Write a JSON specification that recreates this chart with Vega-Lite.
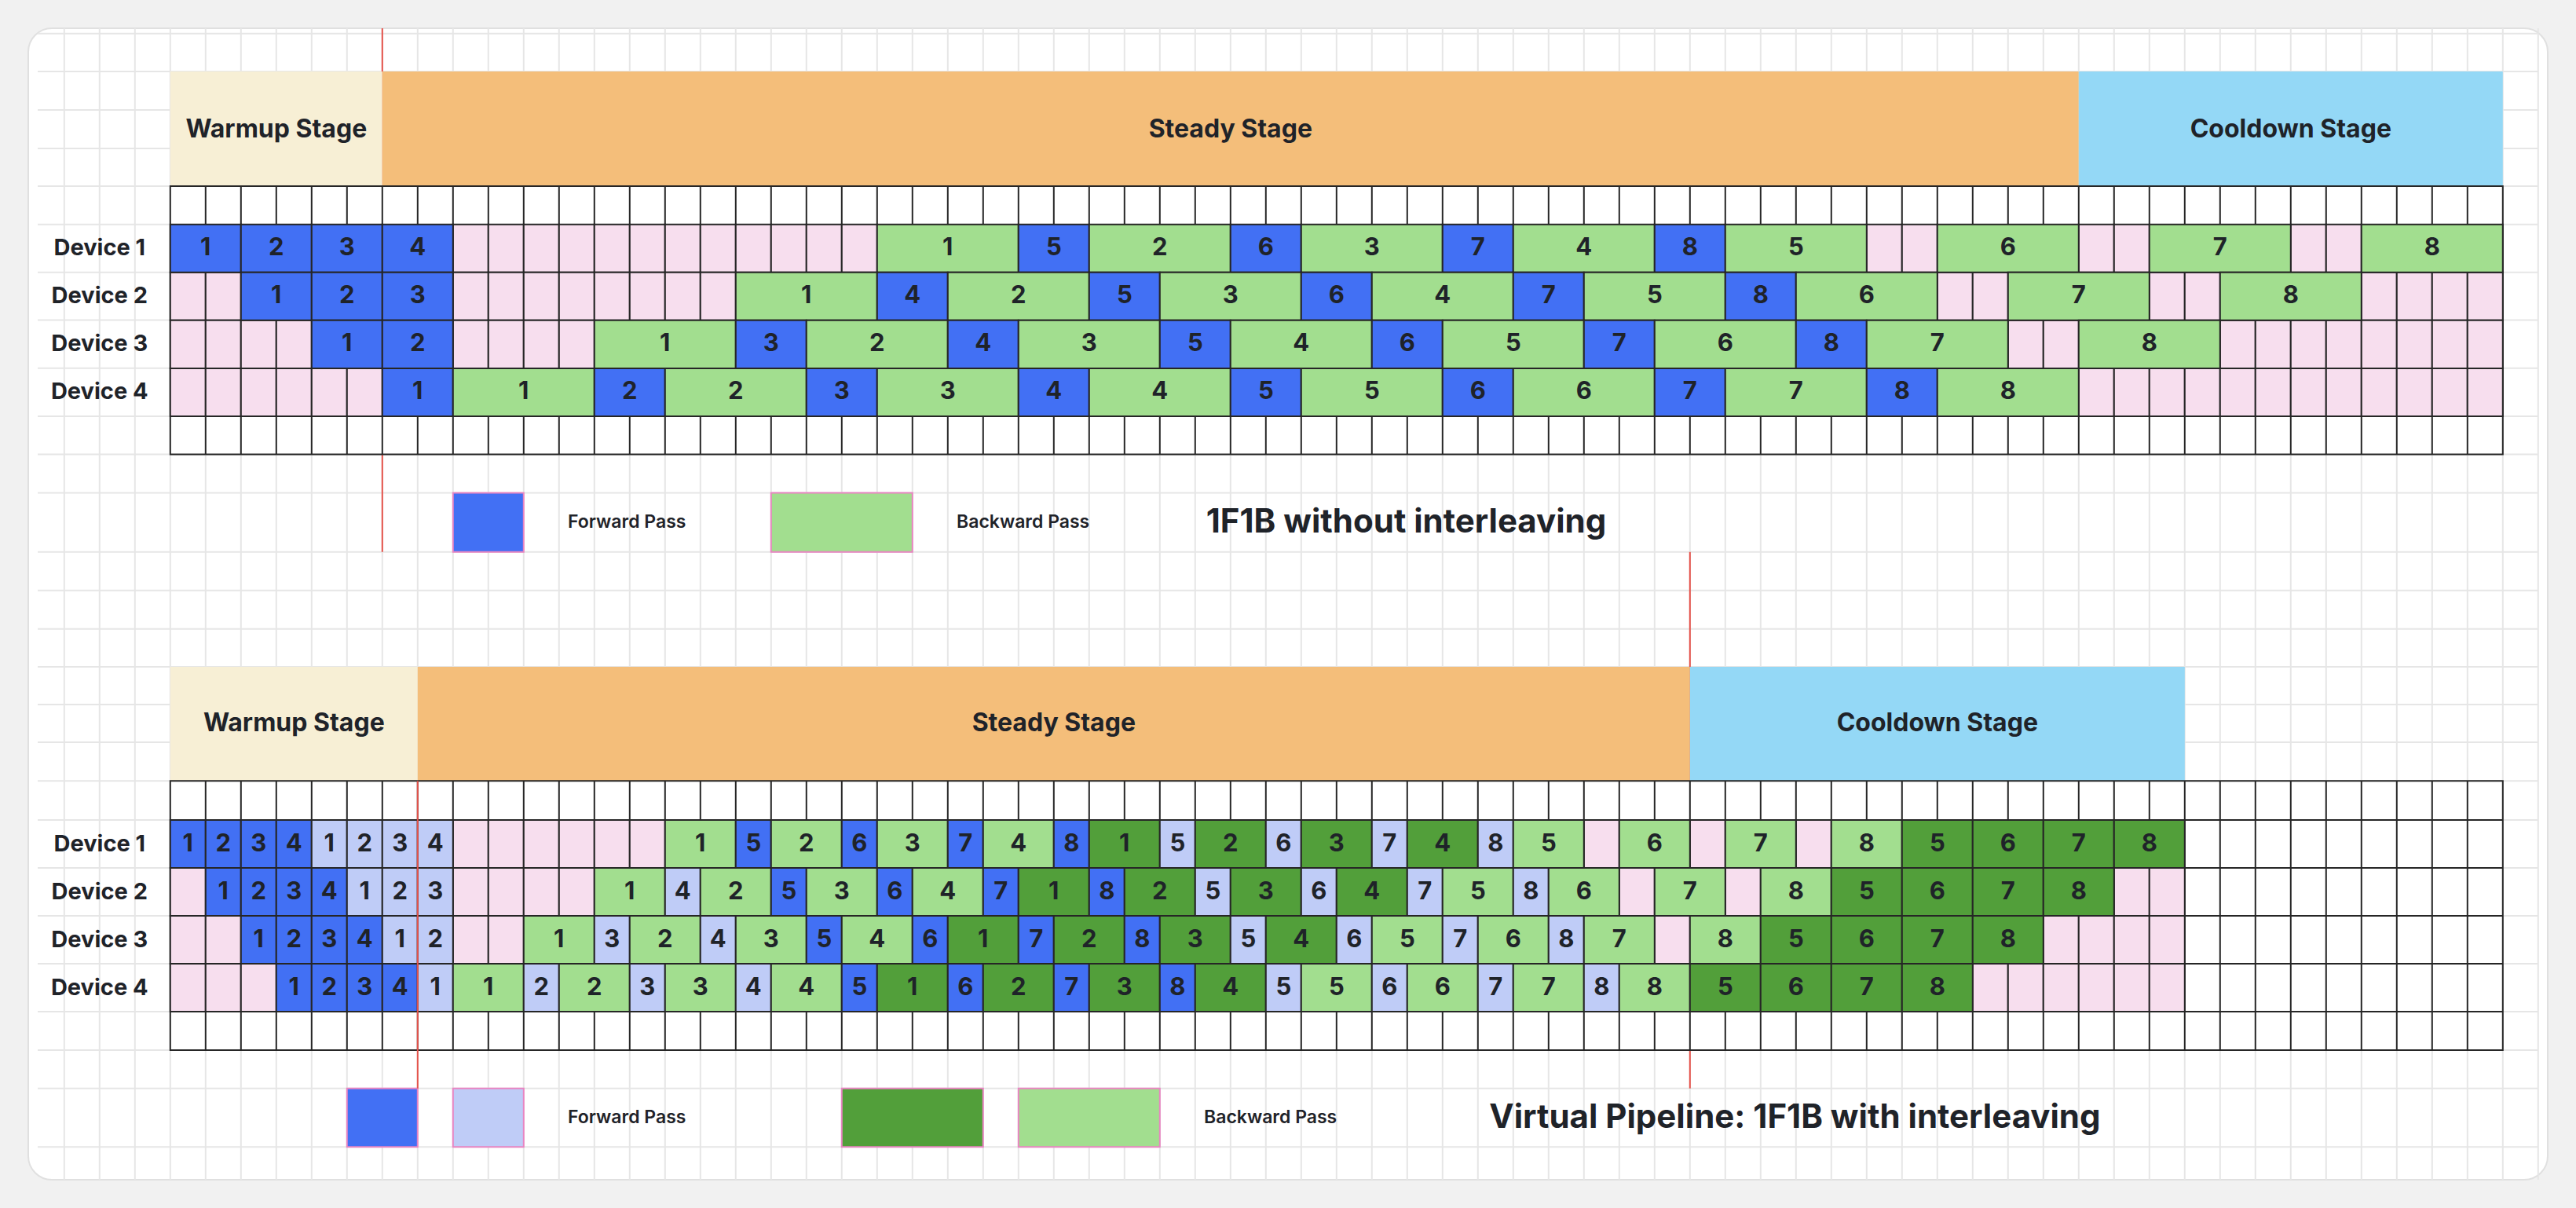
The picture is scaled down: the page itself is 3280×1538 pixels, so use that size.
{
"$schema": "https://vega.github.io/schema/vega-lite/v6.json",
"width": 3208, "height": 1466,
"autosize": {"type": "none"},
"padding": 36,
"background": "#f1f1f1",
"config": {"view": {"fill": "#ffffff", "stroke": "#e0e0e0", "strokeWidth": 2, "cornerRadius": 30}, "axis": {"disable": true}, "legend": {"disable": true}, "font": "Inter", "text": {"font": "Inter", "fill": "#1F2329"}},
"datasets": {
"cols": [{"c":-3},{"c":-2},{"c":-1},{"c":0},{"c":1},{"c":2},{"c":3},{"c":4},{"c":5},{"c":6},{"c":7},{"c":8},{"c":9},{"c":10},{"c":11},{"c":12},{"c":13},{"c":14},{"c":15},{"c":16},{"c":17},{"c":18},{"c":19},{"c":20},{"c":21},{"c":22},{"c":23},{"c":24},{"c":25},{"c":26},{"c":27},{"c":28},{"c":29},{"c":30},{"c":31},{"c":32},{"c":33},{"c":34},{"c":35},{"c":36},{"c":37},{"c":38},{"c":39},{"c":40},{"c":41},{"c":42},{"c":43},{"c":44},{"c":45},{"c":46},{"c":47},{"c":48},{"c":49},{"c":50},{"c":51},{"c":52},{"c":53},{"c":54},{"c":55},{"c":56},{"c":57},{"c":58},{"c":59},{"c":60},{"c":61},{"c":62},{"c":63},{"c":64},{"c":65},{"c":66},{"c":67}],
"lanes": [{"lane":-5},{"lane":-4},{"lane":-3},{"lane":-2},{"lane":-1},{"lane":0},{"lane":1},{"lane":2},{"lane":3},{"lane":4},{"lane":5},{"lane":6},{"lane":7},{"lane":8}],
"devices": [{"device":1,"label":"Device 1"},{"device":2,"label":"Device 2"},{"device":3,"label":"Device 3"},{"device":4,"label":"Device 4"}],
"stages1": [{"stage":"Warmup Stage","start":0,"end":6},{"stage":"Steady Stage","start":6,"end":54},{"stage":"Cooldown Stage","start":54,"end":66}],
"stages2": [{"stage":"Warmup Stage","start":0,"end":7},{"stage":"Steady Stage","start":7,"end":43},{"stage":"Cooldown Stage","start":43,"end":57}],
"blocks1": [
{"device":1,"mb":1,"kind":"fwd","start":0,"end":2},{"device":1,"mb":2,"kind":"fwd","start":2,"end":4},{"device":1,"mb":3,"kind":"fwd","start":4,"end":6},{"device":1,"mb":4,"kind":"fwd","start":6,"end":8},
{"device":1,"mb":1,"kind":"bwd","start":20,"end":24},{"device":1,"mb":5,"kind":"fwd","start":24,"end":26},{"device":1,"mb":2,"kind":"bwd","start":26,"end":30},{"device":1,"mb":6,"kind":"fwd","start":30,"end":32},{"device":1,"mb":3,"kind":"bwd","start":32,"end":36},{"device":1,"mb":7,"kind":"fwd","start":36,"end":38},{"device":1,"mb":4,"kind":"bwd","start":38,"end":42},{"device":1,"mb":8,"kind":"fwd","start":42,"end":44},{"device":1,"mb":5,"kind":"bwd","start":44,"end":48},{"device":1,"mb":6,"kind":"bwd","start":50,"end":54},{"device":1,"mb":7,"kind":"bwd","start":56,"end":60},{"device":1,"mb":8,"kind":"bwd","start":62,"end":66},
{"device":2,"mb":1,"kind":"fwd","start":2,"end":4},{"device":2,"mb":2,"kind":"fwd","start":4,"end":6},{"device":2,"mb":3,"kind":"fwd","start":6,"end":8},{"device":2,"mb":1,"kind":"bwd","start":16,"end":20},{"device":2,"mb":4,"kind":"fwd","start":20,"end":22},{"device":2,"mb":2,"kind":"bwd","start":22,"end":26},{"device":2,"mb":5,"kind":"fwd","start":26,"end":28},{"device":2,"mb":3,"kind":"bwd","start":28,"end":32},{"device":2,"mb":6,"kind":"fwd","start":32,"end":34},{"device":2,"mb":4,"kind":"bwd","start":34,"end":38},{"device":2,"mb":7,"kind":"fwd","start":38,"end":40},{"device":2,"mb":5,"kind":"bwd","start":40,"end":44},{"device":2,"mb":8,"kind":"fwd","start":44,"end":46},{"device":2,"mb":6,"kind":"bwd","start":46,"end":50},{"device":2,"mb":7,"kind":"bwd","start":52,"end":56},{"device":2,"mb":8,"kind":"bwd","start":58,"end":62},
{"device":3,"mb":1,"kind":"fwd","start":4,"end":6},{"device":3,"mb":2,"kind":"fwd","start":6,"end":8},{"device":3,"mb":1,"kind":"bwd","start":12,"end":16},{"device":3,"mb":3,"kind":"fwd","start":16,"end":18},{"device":3,"mb":2,"kind":"bwd","start":18,"end":22},{"device":3,"mb":4,"kind":"fwd","start":22,"end":24},{"device":3,"mb":3,"kind":"bwd","start":24,"end":28},{"device":3,"mb":5,"kind":"fwd","start":28,"end":30},{"device":3,"mb":4,"kind":"bwd","start":30,"end":34},{"device":3,"mb":6,"kind":"fwd","start":34,"end":36},{"device":3,"mb":5,"kind":"bwd","start":36,"end":40},{"device":3,"mb":7,"kind":"fwd","start":40,"end":42},{"device":3,"mb":6,"kind":"bwd","start":42,"end":46},{"device":3,"mb":8,"kind":"fwd","start":46,"end":48},{"device":3,"mb":7,"kind":"bwd","start":48,"end":52},{"device":3,"mb":8,"kind":"bwd","start":54,"end":58},
{"device":4,"mb":1,"kind":"fwd","start":6,"end":8},{"device":4,"mb":1,"kind":"bwd","start":8,"end":12},{"device":4,"mb":2,"kind":"fwd","start":12,"end":14},{"device":4,"mb":2,"kind":"bwd","start":14,"end":18},{"device":4,"mb":3,"kind":"fwd","start":18,"end":20},{"device":4,"mb":3,"kind":"bwd","start":20,"end":24},{"device":4,"mb":4,"kind":"fwd","start":24,"end":26},{"device":4,"mb":4,"kind":"bwd","start":26,"end":30},{"device":4,"mb":5,"kind":"fwd","start":30,"end":32},{"device":4,"mb":5,"kind":"bwd","start":32,"end":36},{"device":4,"mb":6,"kind":"fwd","start":36,"end":38},{"device":4,"mb":6,"kind":"bwd","start":38,"end":42},{"device":4,"mb":7,"kind":"fwd","start":42,"end":44},{"device":4,"mb":7,"kind":"bwd","start":44,"end":48},{"device":4,"mb":8,"kind":"fwd","start":48,"end":50},{"device":4,"mb":8,"kind":"bwd","start":50,"end":54}
],
"gaps1": [
{"device":1,"start":8,"end":9,"kind":"idle"},{"device":1,"start":9,"end":10,"kind":"idle"},{"device":1,"start":10,"end":11,"kind":"idle"},{"device":1,"start":11,"end":12,"kind":"idle"},{"device":1,"start":12,"end":13,"kind":"idle"},{"device":1,"start":13,"end":14,"kind":"idle"},{"device":1,"start":14,"end":15,"kind":"idle"},{"device":1,"start":15,"end":16,"kind":"idle"},{"device":1,"start":16,"end":17,"kind":"idle"},{"device":1,"start":17,"end":18,"kind":"idle"},{"device":1,"start":18,"end":19,"kind":"idle"},{"device":1,"start":19,"end":20,"kind":"idle"},{"device":1,"start":48,"end":49,"kind":"idle"},{"device":1,"start":49,"end":50,"kind":"idle"},{"device":1,"start":54,"end":55,"kind":"idle"},{"device":1,"start":55,"end":56,"kind":"idle"},{"device":1,"start":60,"end":61,"kind":"idle"},{"device":1,"start":61,"end":62,"kind":"idle"},
{"device":2,"start":0,"end":1,"kind":"idle"},{"device":2,"start":1,"end":2,"kind":"idle"},{"device":2,"start":8,"end":9,"kind":"idle"},{"device":2,"start":9,"end":10,"kind":"idle"},{"device":2,"start":10,"end":11,"kind":"idle"},{"device":2,"start":11,"end":12,"kind":"idle"},{"device":2,"start":12,"end":13,"kind":"idle"},{"device":2,"start":13,"end":14,"kind":"idle"},{"device":2,"start":14,"end":15,"kind":"idle"},{"device":2,"start":15,"end":16,"kind":"idle"},{"device":2,"start":50,"end":51,"kind":"idle"},{"device":2,"start":51,"end":52,"kind":"idle"},{"device":2,"start":56,"end":57,"kind":"idle"},{"device":2,"start":57,"end":58,"kind":"idle"},{"device":2,"start":62,"end":63,"kind":"idle"},{"device":2,"start":63,"end":64,"kind":"idle"},{"device":2,"start":64,"end":65,"kind":"idle"},{"device":2,"start":65,"end":66,"kind":"idle"},
{"device":3,"start":0,"end":1,"kind":"idle"},{"device":3,"start":1,"end":2,"kind":"idle"},{"device":3,"start":2,"end":3,"kind":"idle"},{"device":3,"start":3,"end":4,"kind":"idle"},{"device":3,"start":8,"end":9,"kind":"idle"},{"device":3,"start":9,"end":10,"kind":"idle"},{"device":3,"start":10,"end":11,"kind":"idle"},{"device":3,"start":11,"end":12,"kind":"idle"},{"device":3,"start":52,"end":53,"kind":"idle"},{"device":3,"start":53,"end":54,"kind":"idle"},{"device":3,"start":58,"end":59,"kind":"idle"},{"device":3,"start":59,"end":60,"kind":"idle"},{"device":3,"start":60,"end":61,"kind":"idle"},{"device":3,"start":61,"end":62,"kind":"idle"},{"device":3,"start":62,"end":63,"kind":"idle"},{"device":3,"start":63,"end":64,"kind":"idle"},{"device":3,"start":64,"end":65,"kind":"idle"},{"device":3,"start":65,"end":66,"kind":"idle"},
{"device":4,"start":0,"end":1,"kind":"idle"},{"device":4,"start":1,"end":2,"kind":"idle"},{"device":4,"start":2,"end":3,"kind":"idle"},{"device":4,"start":3,"end":4,"kind":"idle"},{"device":4,"start":4,"end":5,"kind":"idle"},{"device":4,"start":5,"end":6,"kind":"idle"},{"device":4,"start":54,"end":55,"kind":"idle"},{"device":4,"start":55,"end":56,"kind":"idle"},{"device":4,"start":56,"end":57,"kind":"idle"},{"device":4,"start":57,"end":58,"kind":"idle"},{"device":4,"start":58,"end":59,"kind":"idle"},{"device":4,"start":59,"end":60,"kind":"idle"},{"device":4,"start":60,"end":61,"kind":"idle"},{"device":4,"start":61,"end":62,"kind":"idle"},{"device":4,"start":62,"end":63,"kind":"idle"},{"device":4,"start":63,"end":64,"kind":"idle"},{"device":4,"start":64,"end":65,"kind":"idle"},{"device":4,"start":65,"end":66,"kind":"idle"}
],
"blocks2": [
{"device":1,"mb":1,"kind":"fwd","start":0,"end":1},{"device":1,"mb":2,"kind":"fwd","start":1,"end":2},{"device":1,"mb":3,"kind":"fwd","start":2,"end":3},{"device":1,"mb":4,"kind":"fwd","start":3,"end":4},{"device":1,"mb":1,"kind":"fwd2","start":4,"end":5},{"device":1,"mb":2,"kind":"fwd2","start":5,"end":6},{"device":1,"mb":3,"kind":"fwd2","start":6,"end":7},{"device":1,"mb":4,"kind":"fwd2","start":7,"end":8},
{"device":1,"mb":1,"kind":"bwd","start":14,"end":16},{"device":1,"mb":5,"kind":"fwd","start":16,"end":17},{"device":1,"mb":2,"kind":"bwd","start":17,"end":19},{"device":1,"mb":6,"kind":"fwd","start":19,"end":20},{"device":1,"mb":3,"kind":"bwd","start":20,"end":22},{"device":1,"mb":7,"kind":"fwd","start":22,"end":23},{"device":1,"mb":4,"kind":"bwd","start":23,"end":25},{"device":1,"mb":8,"kind":"fwd","start":25,"end":26},
{"device":1,"mb":1,"kind":"bwd1","start":26,"end":28},{"device":1,"mb":5,"kind":"fwd2","start":28,"end":29},{"device":1,"mb":2,"kind":"bwd1","start":29,"end":31},{"device":1,"mb":6,"kind":"fwd2","start":31,"end":32},{"device":1,"mb":3,"kind":"bwd1","start":32,"end":34},{"device":1,"mb":7,"kind":"fwd2","start":34,"end":35},{"device":1,"mb":4,"kind":"bwd1","start":35,"end":37},{"device":1,"mb":8,"kind":"fwd2","start":37,"end":38},
{"device":1,"mb":5,"kind":"bwd","start":38,"end":40},{"device":1,"mb":6,"kind":"bwd","start":41,"end":43},{"device":1,"mb":7,"kind":"bwd","start":44,"end":46},{"device":1,"mb":8,"kind":"bwd","start":47,"end":49},{"device":1,"mb":5,"kind":"bwd1","start":49,"end":51},{"device":1,"mb":6,"kind":"bwd1","start":51,"end":53},{"device":1,"mb":7,"kind":"bwd1","start":53,"end":55},{"device":1,"mb":8,"kind":"bwd1","start":55,"end":57},
{"device":2,"mb":1,"kind":"fwd","start":1,"end":2},{"device":2,"mb":2,"kind":"fwd","start":2,"end":3},{"device":2,"mb":3,"kind":"fwd","start":3,"end":4},{"device":2,"mb":4,"kind":"fwd","start":4,"end":5},{"device":2,"mb":1,"kind":"fwd2","start":5,"end":6},{"device":2,"mb":2,"kind":"fwd2","start":6,"end":7},{"device":2,"mb":3,"kind":"fwd2","start":7,"end":8},
{"device":2,"mb":1,"kind":"bwd","start":12,"end":14},{"device":2,"mb":4,"kind":"fwd2","start":14,"end":15},{"device":2,"mb":2,"kind":"bwd","start":15,"end":17},{"device":2,"mb":5,"kind":"fwd","start":17,"end":18},{"device":2,"mb":3,"kind":"bwd","start":18,"end":20},{"device":2,"mb":6,"kind":"fwd","start":20,"end":21},{"device":2,"mb":4,"kind":"bwd","start":21,"end":23},{"device":2,"mb":7,"kind":"fwd","start":23,"end":24},
{"device":2,"mb":1,"kind":"bwd1","start":24,"end":26},{"device":2,"mb":8,"kind":"fwd","start":26,"end":27},{"device":2,"mb":2,"kind":"bwd1","start":27,"end":29},{"device":2,"mb":5,"kind":"fwd2","start":29,"end":30},{"device":2,"mb":3,"kind":"bwd1","start":30,"end":32},{"device":2,"mb":6,"kind":"fwd2","start":32,"end":33},{"device":2,"mb":4,"kind":"bwd1","start":33,"end":35},{"device":2,"mb":7,"kind":"fwd2","start":35,"end":36},
{"device":2,"mb":5,"kind":"bwd","start":36,"end":38},{"device":2,"mb":8,"kind":"fwd2","start":38,"end":39},{"device":2,"mb":6,"kind":"bwd","start":39,"end":41},{"device":2,"mb":7,"kind":"bwd","start":42,"end":44},{"device":2,"mb":8,"kind":"bwd","start":45,"end":47},{"device":2,"mb":5,"kind":"bwd1","start":47,"end":49},{"device":2,"mb":6,"kind":"bwd1","start":49,"end":51},{"device":2,"mb":7,"kind":"bwd1","start":51,"end":53},{"device":2,"mb":8,"kind":"bwd1","start":53,"end":55},
{"device":3,"mb":1,"kind":"fwd","start":2,"end":3},{"device":3,"mb":2,"kind":"fwd","start":3,"end":4},{"device":3,"mb":3,"kind":"fwd","start":4,"end":5},{"device":3,"mb":4,"kind":"fwd","start":5,"end":6},{"device":3,"mb":1,"kind":"fwd2","start":6,"end":7},{"device":3,"mb":2,"kind":"fwd2","start":7,"end":8},
{"device":3,"mb":1,"kind":"bwd","start":10,"end":12},{"device":3,"mb":3,"kind":"fwd2","start":12,"end":13},{"device":3,"mb":2,"kind":"bwd","start":13,"end":15},{"device":3,"mb":4,"kind":"fwd2","start":15,"end":16},{"device":3,"mb":3,"kind":"bwd","start":16,"end":18},{"device":3,"mb":5,"kind":"fwd","start":18,"end":19},{"device":3,"mb":4,"kind":"bwd","start":19,"end":21},{"device":3,"mb":6,"kind":"fwd","start":21,"end":22},
{"device":3,"mb":1,"kind":"bwd1","start":22,"end":24},{"device":3,"mb":7,"kind":"fwd","start":24,"end":25},{"device":3,"mb":2,"kind":"bwd1","start":25,"end":27},{"device":3,"mb":8,"kind":"fwd","start":27,"end":28},{"device":3,"mb":3,"kind":"bwd1","start":28,"end":30},{"device":3,"mb":5,"kind":"fwd2","start":30,"end":31},{"device":3,"mb":4,"kind":"bwd1","start":31,"end":33},{"device":3,"mb":6,"kind":"fwd2","start":33,"end":34},
{"device":3,"mb":5,"kind":"bwd","start":34,"end":36},{"device":3,"mb":7,"kind":"fwd2","start":36,"end":37},{"device":3,"mb":6,"kind":"bwd","start":37,"end":39},{"device":3,"mb":8,"kind":"fwd2","start":39,"end":40},{"device":3,"mb":7,"kind":"bwd","start":40,"end":42},{"device":3,"mb":8,"kind":"bwd","start":43,"end":45},{"device":3,"mb":5,"kind":"bwd1","start":45,"end":47},{"device":3,"mb":6,"kind":"bwd1","start":47,"end":49},{"device":3,"mb":7,"kind":"bwd1","start":49,"end":51},{"device":3,"mb":8,"kind":"bwd1","start":51,"end":53},
{"device":4,"mb":1,"kind":"fwd","start":3,"end":4},{"device":4,"mb":2,"kind":"fwd","start":4,"end":5},{"device":4,"mb":3,"kind":"fwd","start":5,"end":6},{"device":4,"mb":4,"kind":"fwd","start":6,"end":7},{"device":4,"mb":1,"kind":"fwd2","start":7,"end":8},
{"device":4,"mb":1,"kind":"bwd","start":8,"end":10},{"device":4,"mb":2,"kind":"fwd2","start":10,"end":11},{"device":4,"mb":2,"kind":"bwd","start":11,"end":13},{"device":4,"mb":3,"kind":"fwd2","start":13,"end":14},{"device":4,"mb":3,"kind":"bwd","start":14,"end":16},{"device":4,"mb":4,"kind":"fwd2","start":16,"end":17},{"device":4,"mb":4,"kind":"bwd","start":17,"end":19},{"device":4,"mb":5,"kind":"fwd","start":19,"end":20},
{"device":4,"mb":1,"kind":"bwd1","start":20,"end":22},{"device":4,"mb":6,"kind":"fwd","start":22,"end":23},{"device":4,"mb":2,"kind":"bwd1","start":23,"end":25},{"device":4,"mb":7,"kind":"fwd","start":25,"end":26},{"device":4,"mb":3,"kind":"bwd1","start":26,"end":28},{"device":4,"mb":8,"kind":"fwd","start":28,"end":29},{"device":4,"mb":4,"kind":"bwd1","start":29,"end":31},{"device":4,"mb":5,"kind":"fwd2","start":31,"end":32},
{"device":4,"mb":5,"kind":"bwd","start":32,"end":34},{"device":4,"mb":6,"kind":"fwd2","start":34,"end":35},{"device":4,"mb":6,"kind":"bwd","start":35,"end":37},{"device":4,"mb":7,"kind":"fwd2","start":37,"end":38},{"device":4,"mb":7,"kind":"bwd","start":38,"end":40},{"device":4,"mb":8,"kind":"fwd2","start":40,"end":41},{"device":4,"mb":8,"kind":"bwd","start":41,"end":43},{"device":4,"mb":5,"kind":"bwd1","start":43,"end":45},{"device":4,"mb":6,"kind":"bwd1","start":45,"end":47},{"device":4,"mb":7,"kind":"bwd1","start":47,"end":49},{"device":4,"mb":8,"kind":"bwd1","start":49,"end":51}
],
"gaps2": [
{"device":1,"start":8,"end":9,"kind":"idle"},{"device":1,"start":9,"end":10,"kind":"idle"},{"device":1,"start":10,"end":11,"kind":"idle"},{"device":1,"start":11,"end":12,"kind":"idle"},{"device":1,"start":12,"end":13,"kind":"idle"},{"device":1,"start":13,"end":14,"kind":"idle"},{"device":1,"start":40,"end":41,"kind":"idle"},{"device":1,"start":43,"end":44,"kind":"idle"},{"device":1,"start":46,"end":47,"kind":"idle"},
{"device":2,"start":0,"end":1,"kind":"idle"},{"device":2,"start":8,"end":9,"kind":"idle"},{"device":2,"start":9,"end":10,"kind":"idle"},{"device":2,"start":10,"end":11,"kind":"idle"},{"device":2,"start":11,"end":12,"kind":"idle"},{"device":2,"start":41,"end":42,"kind":"idle"},{"device":2,"start":44,"end":45,"kind":"idle"},{"device":2,"start":55,"end":56,"kind":"idle"},{"device":2,"start":56,"end":57,"kind":"idle"},
{"device":3,"start":0,"end":1,"kind":"idle"},{"device":3,"start":1,"end":2,"kind":"idle"},{"device":3,"start":8,"end":9,"kind":"idle"},{"device":3,"start":9,"end":10,"kind":"idle"},{"device":3,"start":42,"end":43,"kind":"idle"},{"device":3,"start":53,"end":54,"kind":"idle"},{"device":3,"start":54,"end":55,"kind":"idle"},{"device":3,"start":55,"end":56,"kind":"idle"},{"device":3,"start":56,"end":57,"kind":"idle"},
{"device":4,"start":0,"end":1,"kind":"idle"},{"device":4,"start":1,"end":2,"kind":"idle"},{"device":4,"start":2,"end":3,"kind":"idle"},{"device":4,"start":51,"end":52,"kind":"idle"},{"device":4,"start":52,"end":53,"kind":"idle"},{"device":4,"start":53,"end":54,"kind":"idle"},{"device":4,"start":54,"end":55,"kind":"idle"},{"device":4,"start":55,"end":56,"kind":"idle"},{"device":4,"start":56,"end":57,"kind":"idle"}
]
},
"layer": [
{"data": {"name": "cols"}, "mark": {"type": "rule", "stroke": "#e6e6e6", "strokeWidth": 2},
 "encoding": {"x": {"field": "c", "type": "quantitative", "scale": {"domain": [-4.0178, 67.2711], "nice": false, "zero": false}}}},
{"layer": [
 {"data": {"name": "lanes"}, "transform": [{"filter": "datum.lane >= -4"}], "mark": {"type": "rule", "stroke": "#e6e6e6", "strokeWidth": 2},
  "encoding": {"y": {"field": "lane", "type": "quantitative", "scale": {"domain": [-5,-4,-3,-2,-1,0,1,2,3,4,5,6,7,8], "range": [0,6.7,55,104,153,201,249.7,310.7,371.5,432.8,494,542.5,591.6,666.7], "nice": false, "zero": false}},
   "x": {"datum": -3.75, "scale": {"domain": [-4.0178, 67.2711], "nice": false, "zero": false}}, "x2": {"datum": 67.0}}},
 {"data": {"values": [{}]}, "mark": {"type": "rule", "stroke": "#E5534B", "strokeWidth": 2},
  "encoding": {"x": {"datum": 6, "scale": {"domain": [-4.0178, 67.2711], "nice": false, "zero": false}},
   "y": {"datum": -5, "scale": {"domain": [-5,-4,-3,-2,-1,0,1,2,3,4,5,6,7,8], "range": [0,6.7,55,104,153,201,249.7,310.7,371.5,432.8,494,542.5,591.6,666.7], "nice": false, "zero": false}}, "y2": {"datum": 8}}},
 {"data": {"name": "stages1"}, "mark": {"type": "rect"},
  "encoding": {"x": {"field": "start", "type": "quantitative", "scale": {"domain": [-4.0178, 67.2711], "nice": false, "zero": false}}, "x2": {"field": "end"},
   "y": {"datum": -3, "scale": {"domain": [-5,-4,-3,-2,-1,0,1,2,3,4,5,6,7,8], "range": [0,6.7,55,104,153,201,249.7,310.7,371.5,432.8,494,542.5,591.6,666.7], "nice": false, "zero": false}}, "y2": {"datum": 0},
   "color": {"field": "stage", "type": "nominal", "scale": {"domain": ["fwd","fwd2","bwd","bwd1","idle","Warmup Stage","Steady Stage","Cooldown Stage"], "range": ["#4270F4","#BFCCF7","#A2DE8F","#529F3A","#F7DEEE","#F7EFD5","#F4BE7A","#94D8F6"]}}}},
 {"data": {"name": "stages1"}, "transform": [{"fold": ["start","end"], "as": ["edge","t"]}, {"aggregate": [{"op": "mean", "field": "t", "as": "mid"}], "groupby": ["stage"]}],
  "mark": {"type": "text", "fontSize": 32, "fontWeight": 700},
  "encoding": {"x": {"field": "mid", "type": "quantitative", "scale": {"domain": [-4.0178, 67.2711], "nice": false, "zero": false}},
   "y": {"datum": -1.5, "scale": {"domain": [-5,-4,-3,-2,-1,0,1,2,3,4,5,6,7,8], "range": [0,6.7,55,104,153,201,249.7,310.7,371.5,432.8,494,542.5,591.6,666.7], "nice": false, "zero": false}},
   "text": {"field": "stage"}}},
 {"data": {"values": [{}]}, "mark": {"type": "rect", "fill": "#ffffff", "stroke": "#262626", "strokeWidth": 2},
  "encoding": {"x": {"datum": 0, "scale": {"domain": [-4.0178, 67.2711], "nice": false, "zero": false}}, "x2": {"datum": 66},
   "y": {"datum": 0, "scale": {"domain": [-5,-4,-3,-2,-1,0,1,2,3,4,5,6,7,8], "range": [0,6.7,55,104,153,201,249.7,310.7,371.5,432.8,494,542.5,591.6,666.7], "nice": false, "zero": false}}, "y2": {"datum": 6}}},
 {"data": {"name": "cols"}, "transform": [{"filter": "datum.c >= 1 && datum.c <= 65"}], "mark": {"type": "rule", "stroke": "#262626", "strokeWidth": 2},
  "encoding": {"x": {"field": "c", "type": "quantitative", "scale": {"domain": [-4.0178, 67.2711], "nice": false, "zero": false}},
   "y": {"datum": 0, "scale": {"domain": [-5,-4,-3,-2,-1,0,1,2,3,4,5,6,7,8], "range": [0,6.7,55,104,153,201,249.7,310.7,371.5,432.8,494,542.5,591.6,666.7], "nice": false, "zero": false}}, "y2": {"datum": 6}}},
 {"data": {"values": [{"kind": "fwd", "from": 8, "to": 10}, {"kind": "bwd", "from": 17, "to": 21}]}, "mark": {"type": "rect", "stroke": "#E985C2", "strokeWidth": 2},
  "encoding": {"x": {"field": "from", "type": "quantitative", "scale": {"domain": [-4.0178, 67.2711], "nice": false, "zero": false}}, "x2": {"field": "to"},
   "y": {"datum": 7, "scale": {"domain": [-5,-4,-3,-2,-1,0,1,2,3,4,5,6,7,8], "range": [0,6.7,55,104,153,201,249.7,310.7,371.5,432.8,494,542.5,591.6,666.7], "nice": false, "zero": false}}, "y2": {"datum": 8},
   "color": {"field": "kind", "type": "nominal", "scale": {"domain": ["fwd","fwd2","bwd","bwd1","idle","Warmup Stage","Steady Stage","Cooldown Stage"], "range": ["#4270F4","#BFCCF7","#A2DE8F","#529F3A","#F7DEEE","#F7EFD5","#F4BE7A","#94D8F6"]}}}},
 {"data": {"values": [{"label": "Forward Pass", "at": 12.92}, {"label": "Backward Pass", "at": 24.13}]}, "mark": {"type": "text", "fontSize": 23, "fontWeight": 600},
  "encoding": {"x": {"field": "at", "type": "quantitative", "scale": {"domain": [-4.0178, 67.2711], "nice": false, "zero": false}},
   "y": {"datum": 7.5, "scale": {"domain": [-5,-4,-3,-2,-1,0,1,2,3,4,5,6,7,8], "range": [0,6.7,55,104,153,201,249.7,310.7,371.5,432.8,494,542.5,591.6,666.7], "nice": false, "zero": false}},
   "text": {"field": "label"}}},
 {"data": {"values": [{"title": "1F1B without interleaving", "at": 34.97}]}, "mark": {"type": "text", "fontSize": 42, "fontWeight": 700},
  "encoding": {"x": {"field": "at", "type": "quantitative", "scale": {"domain": [-4.0178, 67.2711], "nice": false, "zero": false}},
   "y": {"datum": 7.5, "scale": {"domain": [-5,-4,-3,-2,-1,0,1,2,3,4,5,6,7,8], "range": [0,6.7,55,104,153,201,249.7,310.7,371.5,432.8,494,542.5,591.6,666.7], "nice": false, "zero": false}},
   "text": {"field": "title"}}}
]},
{"layer": [
 {"data": {"name": "gaps1"}, "mark": {"type": "rect", "stroke": "#262626", "strokeWidth": 2},
  "encoding": {"x": {"field": "start", "type": "quantitative", "scale": {"domain": [-4.0178, 67.2711], "nice": false, "zero": false}}, "x2": {"field": "end"},
   "y": {"field": "device", "type": "ordinal", "scale": {"type": "band", "domain": [1,2,3,4], "range": [249.7, 494], "paddingInner": 0, "paddingOuter": 0}},
   "color": {"field": "kind", "type": "nominal", "scale": {"domain": ["fwd","fwd2","bwd","bwd1","idle","Warmup Stage","Steady Stage","Cooldown Stage"], "range": ["#4270F4","#BFCCF7","#A2DE8F","#529F3A","#F7DEEE","#F7EFD5","#F4BE7A","#94D8F6"]}}}},
 {"data": {"name": "blocks1"}, "mark": {"type": "rect", "stroke": "#262626", "strokeWidth": 2},
  "encoding": {"x": {"field": "start", "type": "quantitative", "scale": {"domain": [-4.0178, 67.2711], "nice": false, "zero": false}}, "x2": {"field": "end"},
   "y": {"field": "device", "type": "ordinal", "scale": {"type": "band", "domain": [1,2,3,4], "range": [249.7, 494], "paddingInner": 0, "paddingOuter": 0}},
   "color": {"field": "kind", "type": "nominal", "scale": {"domain": ["fwd","fwd2","bwd","bwd1","idle","Warmup Stage","Steady Stage","Cooldown Stage"], "range": ["#4270F4","#BFCCF7","#A2DE8F","#529F3A","#F7DEEE","#F7EFD5","#F4BE7A","#94D8F6"]}}}},
 {"data": {"name": "blocks1"}, "transform": [{"fold": ["start","end"], "as": ["edge","t"]}, {"aggregate": [{"op": "mean", "field": "t", "as": "mid"}], "groupby": ["device","mb","kind","start"]}],
  "mark": {"type": "text", "fontSize": 31, "fontWeight": 700},
  "encoding": {"x": {"field": "mid", "type": "quantitative", "scale": {"domain": [-4.0178, 67.2711], "nice": false, "zero": false}},
   "y": {"field": "device", "type": "ordinal", "scale": {"type": "band", "domain": [1,2,3,4], "range": [249.7, 494], "paddingInner": 0, "paddingOuter": 0}},
   "text": {"field": "mb"}}},
 {"data": {"name": "devices"}, "mark": {"type": "text", "fontSize": 29, "fontWeight": 700},
  "encoding": {"x": {"datum": -2, "scale": {"domain": [-4.0178, 67.2711], "nice": false, "zero": false}},
   "y": {"field": "device", "type": "ordinal", "scale": {"type": "band", "domain": [1,2,3,4], "range": [249.7, 494], "paddingInner": 0, "paddingOuter": 0}},
   "text": {"field": "label"}}}
]},
{"layer": [
 {"data": {"name": "lanes"}, "mark": {"type": "rule", "stroke": "#e6e6e6", "strokeWidth": 2},
  "encoding": {"y": {"field": "lane", "type": "quantitative", "scale": {"domain": [-6,-5,-4,-3,-2,-1,0,1,2,3,4,5,6,7,8], "range": [666.7,715.7,764.7,813,861,909,958.3,1008,1069,1130,1191,1252,1301,1349.7,1424.3], "nice": false, "zero": false}},
   "x": {"datum": -3.75, "scale": {"domain": [-4.0178, 67.2711], "nice": false, "zero": false}}, "x2": {"datum": 67.0}}},
 {"data": {"values": [{}]}, "mark": {"type": "rule", "stroke": "#E5534B", "strokeWidth": 2},
  "encoding": {"x": {"datum": 43, "scale": {"domain": [-4.0178, 67.2711], "nice": false, "zero": false}},
   "y": {"datum": -6, "scale": {"domain": [-6,-5,-4,-3,-2,-1,0,1,2,3,4,5,6,7,8], "range": [666.7,715.7,764.7,813,861,909,958.3,1008,1069,1130,1191,1252,1301,1349.7,1424.3], "nice": false, "zero": false}}, "y2": {"datum": 7}}},
 {"data": {"name": "stages2"}, "mark": {"type": "rect"},
  "encoding": {"x": {"field": "start", "type": "quantitative", "scale": {"domain": [-4.0178, 67.2711], "nice": false, "zero": false}}, "x2": {"field": "end"},
   "y": {"datum": -3, "scale": {"domain": [-6,-5,-4,-3,-2,-1,0,1,2,3,4,5,6,7,8], "range": [666.7,715.7,764.7,813,861,909,958.3,1008,1069,1130,1191,1252,1301,1349.7,1424.3], "nice": false, "zero": false}}, "y2": {"datum": 0},
   "color": {"field": "stage", "type": "nominal", "scale": {"domain": ["fwd","fwd2","bwd","bwd1","idle","Warmup Stage","Steady Stage","Cooldown Stage"], "range": ["#4270F4","#BFCCF7","#A2DE8F","#529F3A","#F7DEEE","#F7EFD5","#F4BE7A","#94D8F6"]}}}},
 {"data": {"name": "stages2"}, "transform": [{"fold": ["start","end"], "as": ["edge","t"]}, {"aggregate": [{"op": "mean", "field": "t", "as": "mid"}], "groupby": ["stage"]}],
  "mark": {"type": "text", "fontSize": 32, "fontWeight": 700},
  "encoding": {"x": {"field": "mid", "type": "quantitative", "scale": {"domain": [-4.0178, 67.2711], "nice": false, "zero": false}},
   "y": {"datum": -1.5, "scale": {"domain": [-6,-5,-4,-3,-2,-1,0,1,2,3,4,5,6,7,8], "range": [666.7,715.7,764.7,813,861,909,958.3,1008,1069,1130,1191,1252,1301,1349.7,1424.3], "nice": false, "zero": false}},
   "text": {"field": "stage"}}},
 {"data": {"values": [{}]}, "mark": {"type": "rect", "fill": "#ffffff", "stroke": "#262626", "strokeWidth": 2},
  "encoding": {"x": {"datum": 0, "scale": {"domain": [-4.0178, 67.2711], "nice": false, "zero": false}}, "x2": {"datum": 66},
   "y": {"datum": 0, "scale": {"domain": [-6,-5,-4,-3,-2,-1,0,1,2,3,4,5,6,7,8], "range": [666.7,715.7,764.7,813,861,909,958.3,1008,1069,1130,1191,1252,1301,1349.7,1424.3], "nice": false, "zero": false}}, "y2": {"datum": 6}}},
 {"data": {"name": "cols"}, "transform": [{"filter": "datum.c >= 1 && datum.c <= 65"}], "mark": {"type": "rule", "stroke": "#262626", "strokeWidth": 2},
  "encoding": {"x": {"field": "c", "type": "quantitative", "scale": {"domain": [-4.0178, 67.2711], "nice": false, "zero": false}},
   "y": {"datum": 0, "scale": {"domain": [-6,-5,-4,-3,-2,-1,0,1,2,3,4,5,6,7,8], "range": [666.7,715.7,764.7,813,861,909,958.3,1008,1069,1130,1191,1252,1301,1349.7,1424.3], "nice": false, "zero": false}}, "y2": {"datum": 6}}},
 {"data": {"name": "lanes"}, "transform": [{"filter": "datum.lane >= 1 && datum.lane <= 5"}], "mark": {"type": "rule", "stroke": "#262626", "strokeWidth": 2},
  "encoding": {"y": {"field": "lane", "type": "quantitative", "scale": {"domain": [-6,-5,-4,-3,-2,-1,0,1,2,3,4,5,6,7,8], "range": [666.7,715.7,764.7,813,861,909,958.3,1008,1069,1130,1191,1252,1301,1349.7,1424.3], "nice": false, "zero": false}},
   "x": {"datum": 0, "scale": {"domain": [-4.0178, 67.2711], "nice": false, "zero": false}}, "x2": {"datum": 66}}},
 {"data": {"values": [{"kind": "fwd", "from": 5, "to": 7}, {"kind": "fwd2", "from": 8, "to": 10}, {"kind": "bwd1", "from": 19, "to": 23}, {"kind": "bwd", "from": 24, "to": 28}]}, "mark": {"type": "rect", "stroke": "#E985C2", "strokeWidth": 2},
  "encoding": {"x": {"field": "from", "type": "quantitative", "scale": {"domain": [-4.0178, 67.2711], "nice": false, "zero": false}}, "x2": {"field": "to"},
   "y": {"datum": 7, "scale": {"domain": [-6,-5,-4,-3,-2,-1,0,1,2,3,4,5,6,7,8], "range": [666.7,715.7,764.7,813,861,909,958.3,1008,1069,1130,1191,1252,1301,1349.7,1424.3], "nice": false, "zero": false}}, "y2": {"datum": 8},
   "color": {"field": "kind", "type": "nominal", "scale": {"domain": ["fwd","fwd2","bwd","bwd1","idle","Warmup Stage","Steady Stage","Cooldown Stage"], "range": ["#4270F4","#BFCCF7","#A2DE8F","#529F3A","#F7DEEE","#F7EFD5","#F4BE7A","#94D8F6"]}}}},
 {"data": {"values": [{"label": "Forward Pass", "at": 12.92}, {"label": "Backward Pass", "at": 31.13}]}, "mark": {"type": "text", "fontSize": 23, "fontWeight": 600},
  "encoding": {"x": {"field": "at", "type": "quantitative", "scale": {"domain": [-4.0178, 67.2711], "nice": false, "zero": false}},
   "y": {"datum": 7.5, "scale": {"domain": [-6,-5,-4,-3,-2,-1,0,1,2,3,4,5,6,7,8], "range": [666.7,715.7,764.7,813,861,909,958.3,1008,1069,1130,1191,1252,1301,1349.7,1424.3], "nice": false, "zero": false}},
   "text": {"field": "label"}}},
 {"data": {"values": [{"title": "Virtual Pipeline: 1F1B with interleaving", "at": 45.97}]}, "mark": {"type": "text", "fontSize": 42, "fontWeight": 700},
  "encoding": {"x": {"field": "at", "type": "quantitative", "scale": {"domain": [-4.0178, 67.2711], "nice": false, "zero": false}},
   "y": {"datum": 7.5, "scale": {"domain": [-6,-5,-4,-3,-2,-1,0,1,2,3,4,5,6,7,8], "range": [666.7,715.7,764.7,813,861,909,958.3,1008,1069,1130,1191,1252,1301,1349.7,1424.3], "nice": false, "zero": false}},
   "text": {"field": "title"}}}
]},
{"layer": [
 {"data": {"name": "gaps2"}, "mark": {"type": "rect", "stroke": "#262626", "strokeWidth": 2},
  "encoding": {"x": {"field": "start", "type": "quantitative", "scale": {"domain": [-4.0178, 67.2711], "nice": false, "zero": false}}, "x2": {"field": "end"},
   "y": {"field": "device", "type": "ordinal", "scale": {"type": "band", "domain": [1,2,3,4], "range": [1008, 1252], "paddingInner": 0, "paddingOuter": 0}},
   "color": {"field": "kind", "type": "nominal", "scale": {"domain": ["fwd","fwd2","bwd","bwd1","idle","Warmup Stage","Steady Stage","Cooldown Stage"], "range": ["#4270F4","#BFCCF7","#A2DE8F","#529F3A","#F7DEEE","#F7EFD5","#F4BE7A","#94D8F6"]}}}},
 {"data": {"name": "blocks2"}, "mark": {"type": "rect", "stroke": "#262626", "strokeWidth": 2},
  "encoding": {"x": {"field": "start", "type": "quantitative", "scale": {"domain": [-4.0178, 67.2711], "nice": false, "zero": false}}, "x2": {"field": "end"},
   "y": {"field": "device", "type": "ordinal", "scale": {"type": "band", "domain": [1,2,3,4], "range": [1008, 1252], "paddingInner": 0, "paddingOuter": 0}},
   "color": {"field": "kind", "type": "nominal", "scale": {"domain": ["fwd","fwd2","bwd","bwd1","idle","Warmup Stage","Steady Stage","Cooldown Stage"], "range": ["#4270F4","#BFCCF7","#A2DE8F","#529F3A","#F7DEEE","#F7EFD5","#F4BE7A","#94D8F6"]}}}},
 {"data": {"name": "blocks2"}, "transform": [{"fold": ["start","end"], "as": ["edge","t"]}, {"aggregate": [{"op": "mean", "field": "t", "as": "mid"}], "groupby": ["device","mb","kind","start"]}],
  "mark": {"type": "text", "fontSize": 31, "fontWeight": 700},
  "encoding": {"x": {"field": "mid", "type": "quantitative", "scale": {"domain": [-4.0178, 67.2711], "nice": false, "zero": false}},
   "y": {"field": "device", "type": "ordinal", "scale": {"type": "band", "domain": [1,2,3,4], "range": [1008, 1252], "paddingInner": 0, "paddingOuter": 0}},
   "text": {"field": "mb"}}},
 {"data": {"name": "devices"}, "mark": {"type": "text", "fontSize": 29, "fontWeight": 700},
  "encoding": {"x": {"datum": -2, "scale": {"domain": [-4.0178, 67.2711], "nice": false, "zero": false}},
   "y": {"field": "device", "type": "ordinal", "scale": {"type": "band", "domain": [1,2,3,4], "range": [1008, 1252], "paddingInner": 0, "paddingOuter": 0}},
   "text": {"field": "label"}}}
]},
{"data": {"values": [{}]}, "mark": {"type": "rule", "stroke": "#E5534B", "strokeWidth": 2},
 "encoding": {"x": {"datum": 7, "scale": {"domain": [-4.0178, 67.2711], "nice": false, "zero": false}},
  "y": {"datum": 0, "scale": {"domain": [-6,-5,-4,-3,-2,-1,0,1,2,3,4,5,6,7,8], "range": [666.7,715.7,764.7,813,861,909,958.3,1008,1069,1130,1191,1252,1301,1349.7,1424.3], "nice": false, "zero": false}}, "y2": {"datum": 7}}}
],
"resolve": {"scale": {"y": "independent"}}
}
